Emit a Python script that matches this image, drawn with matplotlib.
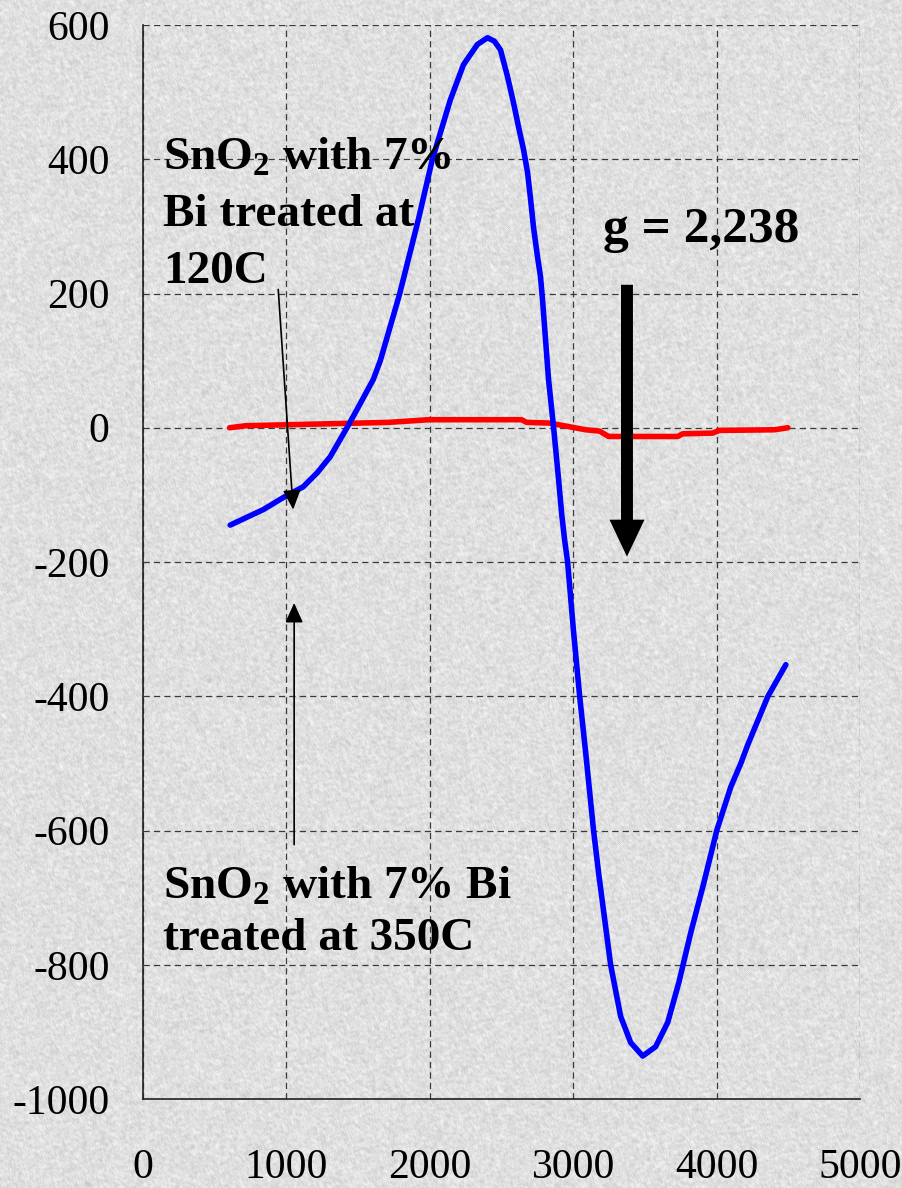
import numpy as np
import matplotlib
matplotlib.use("Agg")
import matplotlib.pyplot as plt

# blue curve: SnO2 + 7% Bi treated at 120C
blue_x = [608, 838, 978, 1117, 1215, 1306, 1425, 1515, 1606, 1655, 1788, 1920,
          2018, 2144, 2235, 2332, 2402, 2450, 2493, 2542, 2584, 2619, 2654, 2682,
          2703, 2723, 2751, 2772, 2786, 2828, 2863, 2898, 2919, 2940, 2961, 3003,
          3045, 3087, 3142, 3177, 3226, 3261, 3331, 3401, 3485, 3575, 3659, 3736,
          3820, 3911, 4001, 4099, 4169, 4218, 4358, 4483]
blue_y = [-145, -122, -104, -88, -67, -43, 1, 36, 72, 100, 198, 310,
          400, 489, 541, 571, 581, 576, 563, 523, 484, 448, 414, 380,
          340, 299, 255, 225, 191, 72, 1, -77, -127, -167, -200, -305,
          -400, -484, -600, -663, -743, -800, -877, -916, -936, -922, -886, -827,
          -752, -678, -600, -535, -500, -472, -400, -353]

# red curve: SnO2 + 7% Bi treated at 350C
red_x = [604, 716, 1515, 1711, 1997, 2640, 2675, 2833, 2961, 3086, 3184, 3247,
         3729, 3764, 3971, 4019, 4404, 4497]
red_y = [0, 3, 7, 8, 12, 12, 8, 7, 2, -3, -5, -13, -13, -9, -8, -4, -3, 0]

x_ticks = [0, 1000, 2000, 3000, 4000, 5000]
y_ticks = [600, 400, 200, 0, -200, -400, -600, -800, -1000]

label_120 = "SnO$_2$ with 7%\nBi treated at\n120C"
label_350 = "SnO$_2$ with 7% Bi\ntreated at 350C"
g_label = "g = 2,238"

plt.rcParams['font.family'] = ['Liberation Serif', 'DejaVu Serif']
plt.rcParams['mathtext.fontset'] = 'custom'
plt.rcParams['mathtext.rm'] = 'Liberation Serif:bold'
plt.rcParams['mathtext.bf'] = 'Liberation Serif:bold'
plt.rcParams['mathtext.default'] = 'rm'
plt.rcParams['lines.scale_dashes'] = False

fig = plt.figure(figsize=(9.02, 11.88), dpi=100)

# granite-like grey backdrop
rng = np.random.default_rng(3)
h, w = 1188, 902
noise = rng.random((h, w))
tex = noise.copy()
for dy, dx in [(1, 0), (0, 1), (1, 1), (-1, 0), (0, -1), (2, 1), (1, -2)]:
    tex += np.roll(np.roll(noise, dy, axis=0), dx, axis=1)
tex /= 8
tex = 196 + (tex - tex.min()) / (tex.max() - tex.min()) * 56
fig.figimage(tex, cmap='gray', vmin=0, vmax=255, zorder=0)

ax = fig.add_axes([143 / 902, 1 - 1099 / 1188, (860 - 143) / 902, (1099 - 25) / 1188])
ax.set_zorder(2)
ax.set_facecolor('none')
ax.set_xlim(0, 5000)
ax.set_ylim(-1000, 600)
ax.set_xticks(x_ticks)
ax.set_yticks(y_ticks)
ax.set_xticklabels([str(v) for v in x_ticks])
ax.set_yticklabels([str(v) for v in y_ticks])
ax.tick_params(axis='both', length=0, labelsize=30, colors='black')
ax.tick_params(axis='y', pad=24)
ax.tick_params(axis='x', pad=36)
ax.grid(True, color='#3a3a3a', linewidth=0.9, linestyle=(0, (4.5, 3)))
ax.set_axisbelow(True)
for s in ['top', 'right']:
    ax.spines[s].set_visible(False)
for s in ['left', 'bottom']:
    ax.spines[s].set_color('#222222')
    ax.spines[s].set_linewidth(1.2)

ax.plot(red_x, red_y, color='#ff0000', lw=4.0, solid_joinstyle='round',
        solid_capstyle='round', zorder=3)
ax.plot(blue_x, blue_y, color='#0000ff', lw=4.0, solid_joinstyle='round',
        solid_capstyle='round', zorder=4)

ax.text(140, 432, label_120, fontsize=34, fontweight='bold', ha='left', va='top',
        linespacing=1.45, zorder=5)
ax.text(140, -653, label_350, fontsize=34, fontweight='bold', ha='left', va='top',
        linespacing=1.3, zorder=5)
ax.text(3205, 277, g_label, fontsize=37, fontweight='bold', ha='left', va='baseline',
        zorder=5)

ax.annotate('', xy=(1047, -122), xytext=(943, 206),
            arrowprops=dict(arrowstyle='-|>,head_length=1.0,head_width=0.45',
                            color='black', lw=1.2, shrinkA=0, shrinkB=0,
                            mutation_scale=12), zorder=6)
ax.annotate('', xy=(1054, -261), xytext=(1054, -621),
            arrowprops=dict(arrowstyle='-|>,head_length=1.0,head_width=0.45',
                            color='black', lw=1.2, shrinkA=0, shrinkB=0,
                            mutation_scale=12), zorder=6)
ax.annotate('', xy=(3375, -192), xytext=(3375, 213),
            arrowprops=dict(arrowstyle='simple,head_length=2.66,head_width=2.52,tail_width=0.86',
                            color='black', lw=0, shrinkA=0, shrinkB=0,
                            mutation_scale=10), zorder=6)

fig.savefig('out.png', dpi=100)
